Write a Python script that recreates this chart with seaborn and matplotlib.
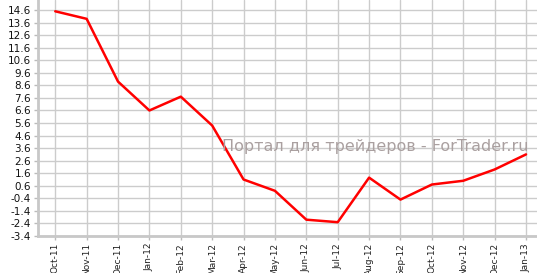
import matplotlib
matplotlib.use("Agg")
import matplotlib.pyplot as plt
import seaborn as sns
import numpy as np
import pandas as pd

months = ["Oct-11", "Nov-11", "Dec-11", "Jan-12", "Feb-12", "Mar-12", "Apr-12", "May-12",
          "Jun-12", "Jul-12", "Aug-12", "Sep-12", "Oct-12", "Nov-12", "Dec-12", "Jan-13"]
values = [14.5, 13.9, 8.9, 6.6, 7.7, 5.4, 1.1, 0.2, -2.1, -2.3, 1.25, -0.5, 0.7, 1.0, 1.9, 3.1]
yticks = [-3.4, -2.4, -1.4, -0.4, 0.6, 1.6, 2.6, 3.6, 4.6, 5.6, 6.6, 7.6, 8.6, 9.6, 10.6, 11.6, 12.6, 13.6, 14.6]

sns.set_style("white")
plt.rcParams['font.family'] = ['DejaVu Sans']

fig = plt.figure(figsize=(5.37, 2.73), dpi=100)
ax = fig.add_axes([38/537, 37/273, 1 - 38/537, 1 - 37/273])

df = pd.DataFrame({"x": np.arange(len(months)), "v": values})
sns.lineplot(data=df, x="x", y="v", ax=ax, color="#ff0000", linewidth=1.8)

ax.set_xlim(-0.55, len(months) - 1 + 0.35)
ax.set_ylim(-3.4, 15.4)
ax.set_xticks(np.arange(len(months)))
ax.set_xticklabels(months, rotation=90, fontsize=6.5, color="#222222")
ax.set_yticks(yticks)
ax.set_yticklabels([f"{t:.1f}" for t in yticks], fontsize=7.5, color="#111111")
ax.set_xlabel("")
ax.set_ylabel("")

ax.grid(True, color="#cccccc", linewidth=1.0)
ax.set_axisbelow(True)
for s in ["top", "right"]:
    ax.spines[s].set_visible(False)
for s in ["left", "bottom"]:
    ax.spines[s].set_color("#c8c8c8")
    ax.spines[s].set_linewidth(2)
ax.tick_params(axis="both", length=3, width=1, color="#bbbbbb", pad=2, left=True, bottom=True)

fig.text(375/537, 1 - 147/273, "Портал для трейдеров - ForTrader.ru", fontsize=11.5,
         color="#aaa0a0", ha="center", va="center")

fig.savefig("out.png", dpi=100)
